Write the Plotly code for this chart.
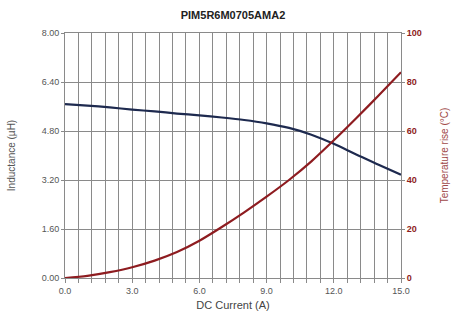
import plotly.graph_objects as go

current = [0, 1, 2, 3, 4, 5, 6, 7, 8, 9, 10, 11, 12, 13, 14, 15]
inductance = [5.68, 5.63, 5.57, 5.50, 5.44, 5.37, 5.31, 5.24, 5.16, 5.05, 4.90, 4.68, 4.38, 4.03, 3.70, 3.37]
temperature = [0, 0.9, 2.4, 4.4, 7.1, 10.6, 15.2, 20.8, 26.8, 33.2, 40.0, 47.6, 56.2, 65.2, 74.5, 84.0]

x_ticks = [0, 3, 6, 9, 12, 15]
x_labels = ["0.0", "3.0", "6.0", "9.0", "12.0", "15.0"]
yl_ticks = [0, 1.6, 3.2, 4.8, 6.4, 8.0]
yl_labels = ["0.00", "1.60", "3.20", "4.80", "6.40", "8.00"]
yr_ticks = [0, 20, 40, 60, 80, 100]

FONT = "Liberation Sans, Arial, sans-serif"
GRID = "#8a8a8a"
NAVY = "#1e2a4f"
RED = "#8e1c20"

fig = go.Figure()
fig.add_trace(go.Scatter(x=current, y=inductance, mode="lines", line=dict(color=NAVY, width=2.2, shape="spline", smoothing=0.8),
                         name="Inductance", yaxis="y"))
fig.add_trace(go.Scatter(x=current, y=temperature, mode="lines", line=dict(color=RED, width=2.2, shape="spline", smoothing=0.8),
                         name="Temperature", yaxis="y2"))

fig.update_layout(
    width=453, height=318,
    margin=dict(l=65, r=52, t=33, b=40, autoexpand=False),
    paper_bgcolor="white", plot_bgcolor="white",
    showlegend=False,
    font=dict(family=FONT, size=9, color="#555555"),
    title=dict(text="<b>PIM5R6M0705AMA2</b>", x=0.5, xref="paper", xanchor="center", y=0.953, yref="container",
               yanchor="middle", font=dict(family=FONT, size=11, color="#222222")),
    xaxis=dict(range=[0, 15], tickvals=x_ticks, ticktext=x_labels, showgrid=True, gridcolor=GRID, gridwidth=1,
               showline=True, linecolor=GRID, linewidth=1, mirror=True, zeroline=False, automargin=False,
               ticks="outside", ticklen=4, tickcolor=GRID,
               minor=dict(dtick=0.6, tick0=0, showgrid=True, gridcolor=GRID, gridwidth=1, ticks="outside", ticklen=4, tickcolor=GRID),
               title=dict(text="DC Current (A)", font=dict(size=11, color="#444444"), standoff=6),
               tickfont=dict(size=9, color="#555555")),
    yaxis=dict(range=[0, 8], tickvals=yl_ticks, ticktext=yl_labels, showgrid=True, gridcolor=GRID, gridwidth=1,
               showline=True, linecolor=GRID, linewidth=1, zeroline=False, automargin=False,
               ticks="outside", ticklen=3, tickcolor=GRID,
               title=dict(text="Inductance (µH)", font=dict(size=10, color="#555555"), standoff=24),
               tickfont=dict(size=9, color="#555555")),
    yaxis2=dict(range=[0, 100], tickvals=yr_ticks, overlaying="y", side="right", showgrid=False, zeroline=False,
                showline=True, linecolor=GRID, linewidth=1, ticks="outside", ticklen=3, tickcolor=GRID, automargin=False,
                title=dict(text="Temperature rise (°C)", font=dict(size=10, color="#a04848"), standoff=20),
                tickfont=dict(size=9, color=RED, weight="bold")),
)

fig.write_html("out.html", config={"displayModeBar": False},
               post_script="document.body.style.margin='0';")
